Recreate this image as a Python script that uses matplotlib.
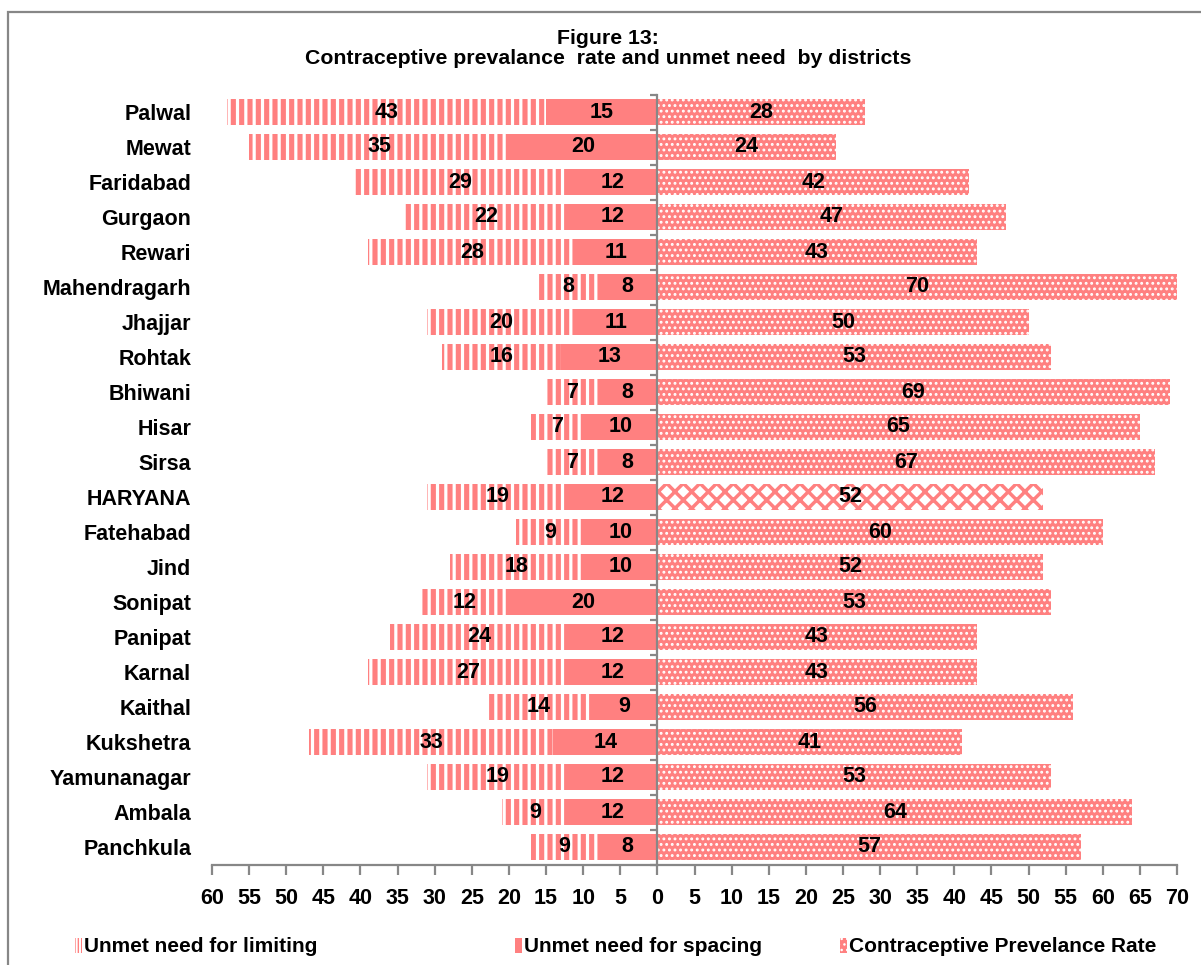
import numpy as np
import matplotlib.pyplot as plt
from matplotlib.patches import Patch, Rectangle

districts = ['Palwal', 'Mewat', 'Faridabad', 'Gurgaon', 'Rewari', 'Mahendragarh',
             'Jhajjar', 'Rohtak', 'Bhiwani', 'Hisar', 'Sirsa', 'HARYANA',
             'Fatehabad', 'Jind', 'Sonipat', 'Panipat', 'Karnal', 'Kaithal',
             'Kukshetra', 'Yamunanagar', 'Ambala', 'Panchkula']
unmet_limiting = [43, 35, 29, 22, 28, 8, 20, 16, 7, 7, 7, 19, 9, 18, 12, 24, 27, 14, 33, 19, 9, 9]
unmet_spacing = [15, 20, 12, 12, 11, 8, 11, 13, 8, 10, 8, 12, 10, 10, 20, 12, 12, 9, 14, 12, 12, 8]
cpr = [28, 24, 42, 47, 43, 70, 50, 53, 69, 65, 67, 52, 60, 52, 53, 43, 43, 56, 41, 53, 64, 57]
state_row = 'HARYANA'
xticks = list(range(-60, 71, 5))

SALMON = '#FF8080'
GREY = '#878787'
W, H = 1201, 965

plt.rcParams['font.family'] = ['Liberation Sans', 'DejaVu Sans']
plt.rcParams['font.weight'] = 'bold'


def hatch_lw(patches, lw):
    # per-patch hatch width where the matplotlib version supports it
    for p in patches:
        if hasattr(p, 'set_hatch_linewidth'):
            p.set_hatch_linewidth(lw)


fig = plt.figure(figsize=(W / 100, H / 100), dpi=100)
ax = fig.add_axes([212 / W, 1 - 864.5 / H, (1177 - 212) / W, (864.5 - 94.5) / H])

# zero line carries the category separators; moving the spine resets the
# y ticks, so do it before any tick setup
for s in ['top', 'left']:
    ax.spines[s].set_visible(False)
ax.spines['right'].set_position(('data', 0))
ax.spines['right'].set_zorder(5)
for s in ['right', 'bottom']:
    ax.spines[s].set_color(GREY)
    ax.spines[s].set_linewidth(1.6)

y = np.arange(len(districts))
lim = np.array(unmet_limiting)
spc = np.array(unmet_spacing)
rate = np.array(cpr)
bh = 0.75

with plt.rc_context({'hatch.linewidth': 2.3}):
    b_lim = ax.barh(y, -lim, left=-spc, height=bh, facecolor=SALMON,
                    edgecolor='white', linewidth=0, hatch='||')
hatch_lw(b_lim, 2.3)
b_spc = ax.barh(y, -spc, height=bh, color=SALMON, linewidth=0)
with plt.rc_context({'hatch.linewidth': 1.3}):
    b_cpr = ax.barh(y, rate, height=bh, facecolor=SALMON,
                    edgecolor='white', linewidth=0, hatch='...')
hatch_lw(b_cpr, 1.3)

# state total gets the diamond fill
k = districts.index(state_row)
b_cpr[k].set_facecolor('white')
b_cpr[k].set_edgecolor(SALMON)
b_cpr[k].set_linewidth(0)
b_cpr[k].set_hatch('xx')
if hasattr(b_cpr[k], 'set_hatch_linewidth'):
    b_cpr[k].set_hatch_linewidth(2.5)

lbl = dict(label_type='center', fontsize=15.5, fontweight='bold', color='black')
ax.bar_label(b_lim, labels=[str(v) for v in lim], **lbl)
ax.bar_label(b_spc, labels=[str(v) for v in spc], **lbl)
ax.bar_label(b_cpr, labels=[str(v) for v in rate], **lbl)

ax.set_xlim(-60, 70)
ax.set_ylim(len(districts) - 0.5, -0.5)
ax.set_xticks(xticks)
ax.set_xticklabels([str(abs(v)) for v in xticks], fontsize=15.5, fontweight='bold')
ax.set_yticks(y)
ax.set_yticklabels(districts, fontsize=15.5, fontweight='bold')
ax.set_yticks(np.arange(-0.5, len(districts)), minor=True)

ax.tick_params(axis='y', which='major', left=False, right=False,
               labelleft=True, labelright=False, pad=11.5, labelsize=15.5)
ax.tick_params(axis='y', which='minor', left=False, right=True,
               direction='in', length=5, width=1.6, color=GREY)
ax.tick_params(axis='x', which='major', direction='out', length=7,
               width=1.6, color=GREY, pad=10)

fig.text(0.506, 1 - 38 / H, 'Figure 13:', ha='center', va='center',
         fontsize=15.3, fontweight='bold')
fig.text(0.506, 1 - 59 / H, 'Contraceptive prevalance  rate and unmet need  by districts',
         ha='center', va='center', fontsize=15.3, fontweight='bold')

# outer chart frame
fig.add_artist(Rectangle((8 / W, -0.1), 1.2, 1.1 - 12 / H, transform=fig.transFigure,
                         fill=False, edgecolor=GREY, linewidth=1.6))

keys = [
    (75, Patch(facecolor='white', edgecolor=SALMON, linewidth=0, hatch='|||||'),
     'Unmet need for limiting'),
    (515, Patch(facecolor=SALMON, linewidth=0), 'Unmet need for spacing'),
    (840, Patch(facecolor=SALMON, edgecolor='white', linewidth=0, hatch='...'),
     'Contraceptive Prevelance Rate'),
]
for xpix, handle, text in keys:
    fig.legend(handles=[handle], labels=[text], loc='center left',
               bbox_to_anchor=(xpix / W, 1 - 947 / H), frameon=False,
               fontsize=15, handlelength=0.35, handleheight=0.7,
               handletextpad=0.1, borderpad=0, borderaxespad=0)

fig.savefig('out.png', dpi=100)
